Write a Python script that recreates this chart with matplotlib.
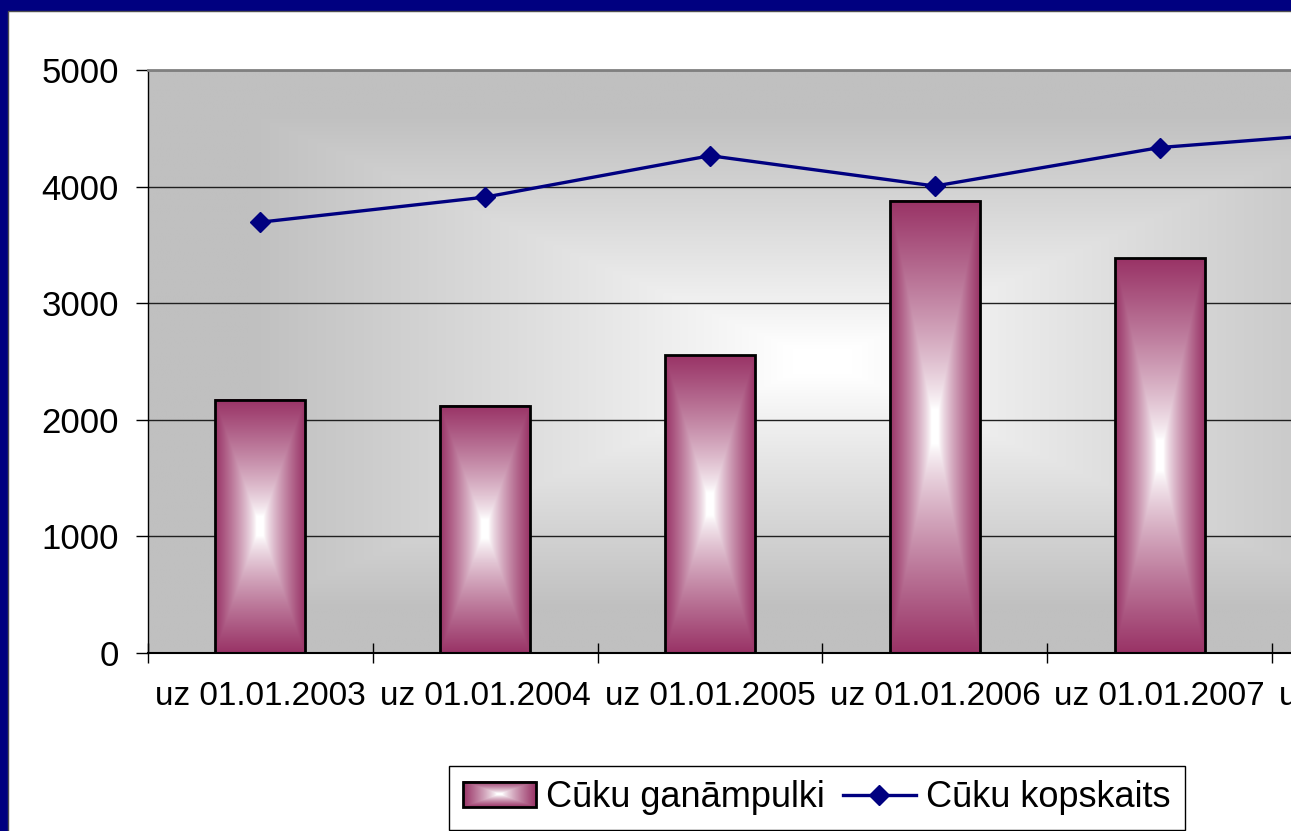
import numpy as np
import matplotlib
matplotlib.use('Agg')
import matplotlib.pyplot as plt
from matplotlib.patches import Rectangle
from matplotlib.legend_handler import HandlerBase
from matplotlib.image import BboxImage
from matplotlib.transforms import Bbox, TransformedBbox

plt.rcParams['font.family'] = ['Liberation Sans', 'DejaVu Sans']

# data (last bar is outside the visible frame, estimated)
categories = ['uz 01.01.2003', 'uz 01.01.2004', 'uz 01.01.2005',
              'uz 01.01.2006', 'uz 01.01.2007', 'uz 01.01.2008']
herds = [2170, 2120, 2555, 3880, 3385, 3500]
pigs_total = [3695, 3910, 4265, 4005, 4335, 4485]
yticks = [0, 1000, 2000, 3000, 4000, 5000]

W, H = 1291, 831
maroon = np.array([0x99, 0x33, 0x66]) / 255
gray = np.array([0xC0, 0xC0, 0xC0]) / 255


def box_gradient(edge, flat=0.0, reach=1.0, gamma=1.0, n=300):
    # rectangular "from centre" gradient: white in the middle, edge colour outside
    u = np.linspace(-1, 1, n)
    U, V = np.meshgrid(u, u)
    d = np.maximum(np.abs(U), np.abs(V))
    t = np.clip((d - flat) / (reach - flat), 0, 1) ** gamma
    return (1 - t)[..., None] * np.ones(3) + t[..., None] * edge


bar_grad = box_gradient(maroon, flat=0.08, reach=1.0, gamma=0.8)
bg_grad = box_gradient(gray, flat=0.05, reach=0.85, gamma=0.9)


class GradientHandler(HandlerBase):
    def create_artists(self, legend, orig_handle, xdescent, ydescent,
                       width, height, fontsize, trans):
        box = Bbox.from_bounds(-xdescent, -ydescent, width, height)
        img = BboxImage(TransformedBbox(box, trans), interpolation='bilinear')
        img.set_data(bar_grad)
        frame = Rectangle((-xdescent, -ydescent), width, height,
                          facecolor='none', edgecolor='black', lw=2,
                          transform=trans)
        return [img, frame]


fig = plt.figure(figsize=(W / 100, H / 100), dpi=100)
fig.patch.set_facecolor('#000080')
fig.add_artist(Rectangle((8 / W, -0.01), 1.1, 1.01 - 11 / H,
                         transform=fig.transFigure, facecolor='white',
                         edgecolor='#505050', lw=1, zorder=-1))

# axes run past the right edge, like the cropped original
ax = fig.add_axes([148 / W, 1 - 653 / H, 1349 / W, 583 / H])

ax.imshow(bg_grad, extent=[0, 1, 0, 1], transform=ax.transAxes,
          aspect='auto', zorder=0, interpolation='bilinear')

x = np.arange(len(categories))
bars = ax.bar(x, herds, width=0.4, facecolor='none', edgecolor='black',
              lw=2, zorder=3, label='Cūku ganāmpulki')
for r in bars:
    ax.imshow(bar_grad, extent=[r.get_x(), r.get_x() + r.get_width(), 0, r.get_height()],
              aspect='auto', zorder=2, interpolation='bilinear')

line, = ax.plot(x, pigs_total, color='#000080', lw=2.4, marker='D', ms=10.5,
                zorder=4, label='Cūku kopskaits')

ax.set_xlim(-0.5, len(categories) - 0.5)
ax.set_ylim(0, 5000)
ax.set_yticks(yticks)
ax.set_yticklabels([str(v) for v in yticks])
ax.yaxis.grid(True, color='#202020', lw=1)
ax.set_axisbelow(True)

ax.set_xticks(np.arange(-0.5, len(categories), 1))
ax.set_xticklabels([])
ax.set_xticks(x, minor=True)
ax.set_xticklabels(categories, minor=True)
ax.tick_params(axis='x', which='major', direction='inout', length=15, width=1)
ax.tick_params(axis='x', which='minor', length=0, pad=20, labelsize=24)
ax.tick_params(axis='y', direction='out', length=9, width=1, pad=12, labelsize=25)

ax.spines['top'].set_color('#808080')
ax.spines['top'].set_linewidth(2)
ax.spines['right'].set_visible(False)
ax.spines['left'].set_linewidth(1)
ax.spines['bottom'].set_linewidth(1.5)

bar_proxy = Rectangle((0, 0), 1, 1)
leg = fig.legend([bar_proxy, line], ['Cūku ganāmpulki', 'Cūku kopskaits'],
                 loc='upper left', bbox_to_anchor=(449 / W, 1 - 766 / H),
                 borderaxespad=0, ncol=2, fontsize=26, fancybox=False,
                 edgecolor='black', framealpha=1, handlelength=2.0,
                 handletextpad=0.3, columnspacing=0.5, borderpad=0.4,
                 handler_map={bar_proxy: GradientHandler()})
leg.get_frame().set_linewidth(1)

fig.savefig('out.png', dpi=100)
